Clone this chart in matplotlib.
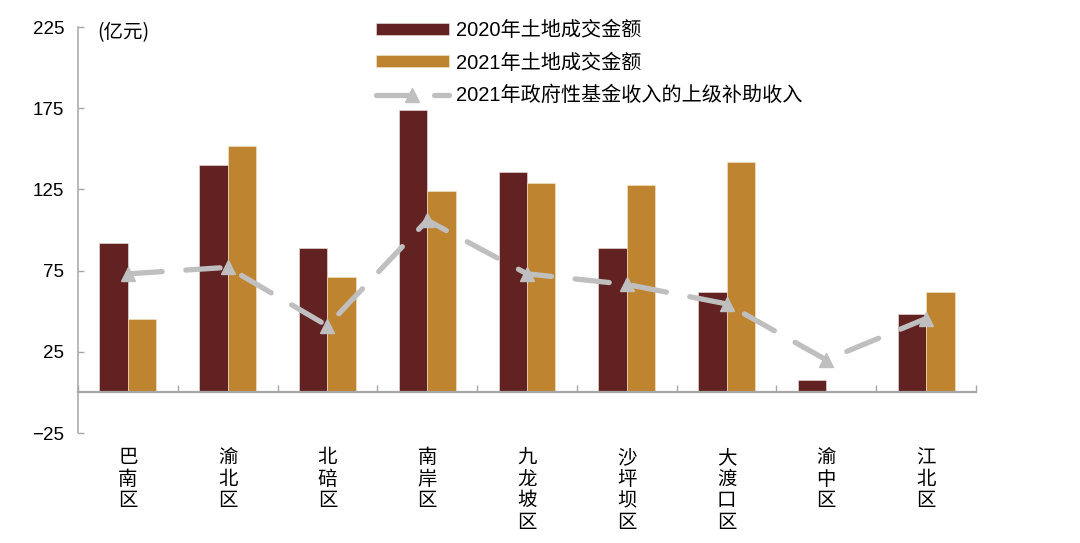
import matplotlib
matplotlib.use("Agg")
import matplotlib.pyplot as plt
import matplotlib.transforms as mtransforms
import numpy as np

plt.rcParams['font.family'] = ['Liberation Sans', 'Noto Sans CJK SC']
plt.rcParams['axes.unicode_minus'] = True

districts = ["巴南区", "渝北区", "北碚区", "南岸区", "九龙坡区", "沙坪坝区", "大渡口区", "渝中区", "江北区"]
land_2020 = [92, 140, 89, 174, 136, 89, 62, 7.5, 48]
land_2021 = [45, 151.5, 71, 124, 129, 128, 142, 0, 62]
subsidy_2021 = [73, 77, 41, 106, 73, 66.5, 54.5, 20, 45.5]

c2020 = "#622222"
c2021 = "#BF8430"
cline = "#BFBFBF"
spine_c = "#A6A6A6"

fig = plt.figure(figsize=(10.8, 5.43), dpi=100)
ax = fig.add_axes([78 / 1080, 1 - 433 / 543, 898 / 1080, 406 / 543])

x = np.arange(len(districts))
w = 0.285
b1 = ax.bar(x - w / 2, land_2020, width=w, color=c2020, edgecolor="#f2e6e6", linewidth=0.4,
            label="2020年土地成交金额", zorder=2)
b2 = ax.bar(x + w / 2, land_2021, width=w, color=c2021, edgecolor="#f5e8d0", linewidth=0.4,
            label="2021年土地成交金额", zorder=2)
ln, = ax.plot(x, subsidy_2021, color=cline, lw=3.8, linestyle=(0, (6.5, 4.5)),
              dash_capstyle="round", solid_capstyle="round",
              marker="^", markersize=10, markeredgecolor=cline, markerfacecolor=cline,
              label="2021年政府性基金收入的上级补助收入", zorder=3)

ax.set_xlim(-0.5, len(districts) - 0.5)
ax.set_ylim(-25, 225)
ax.set_yticks([-25, 25, 75, 125, 175, 225])
ax.tick_params(axis="y", direction="in", length=4, width=1, color=spine_c,
               labelsize=13.5, pad=10)

ax.spines["top"].set_visible(False)
ax.spines["right"].set_visible(False)
ax.spines["left"].set_color(spine_c)
ax.spines["left"].set_linewidth(1.1)
ax.spines["bottom"].set_position(("data", 0))
ax.spines["bottom"].set_color(spine_c)
ax.spines["bottom"].set_linewidth(1.6)

ax.set_xticks(np.arange(len(districts) + 1) - 0.5)
ax.set_xticklabels([])
ax.tick_params(axis="x", direction="in", length=5, width=1, color=spine_c)

# vertical category labels below the plot
trans = mtransforms.blended_transform_factory(ax.transData, ax.transAxes)
for i, name in enumerate(districts):
    ax.text(i, -0.034, "\n".join(name), transform=trans, ha="center", va="top",
            fontsize=14, linespacing=1.05, family=['Noto Sans CJK SC'])

fig.text(97 / 1080, 1 - 33 / 543, "(亿元)", fontsize=14, va="center", ha="left",
         family=['Noto Sans CJK SC'])

fig.legend(handles=[b1, b2, ln], loc="upper left", bbox_to_anchor=(376 / 1080, 1 - 21 / 543),
           frameon=False, fontsize=14.5, handlelength=3.6, handleheight=0.55,
           handletextpad=0.35, labelspacing=0.65, borderpad=0, borderaxespad=0)

fig.savefig("out.png", dpi=100)
